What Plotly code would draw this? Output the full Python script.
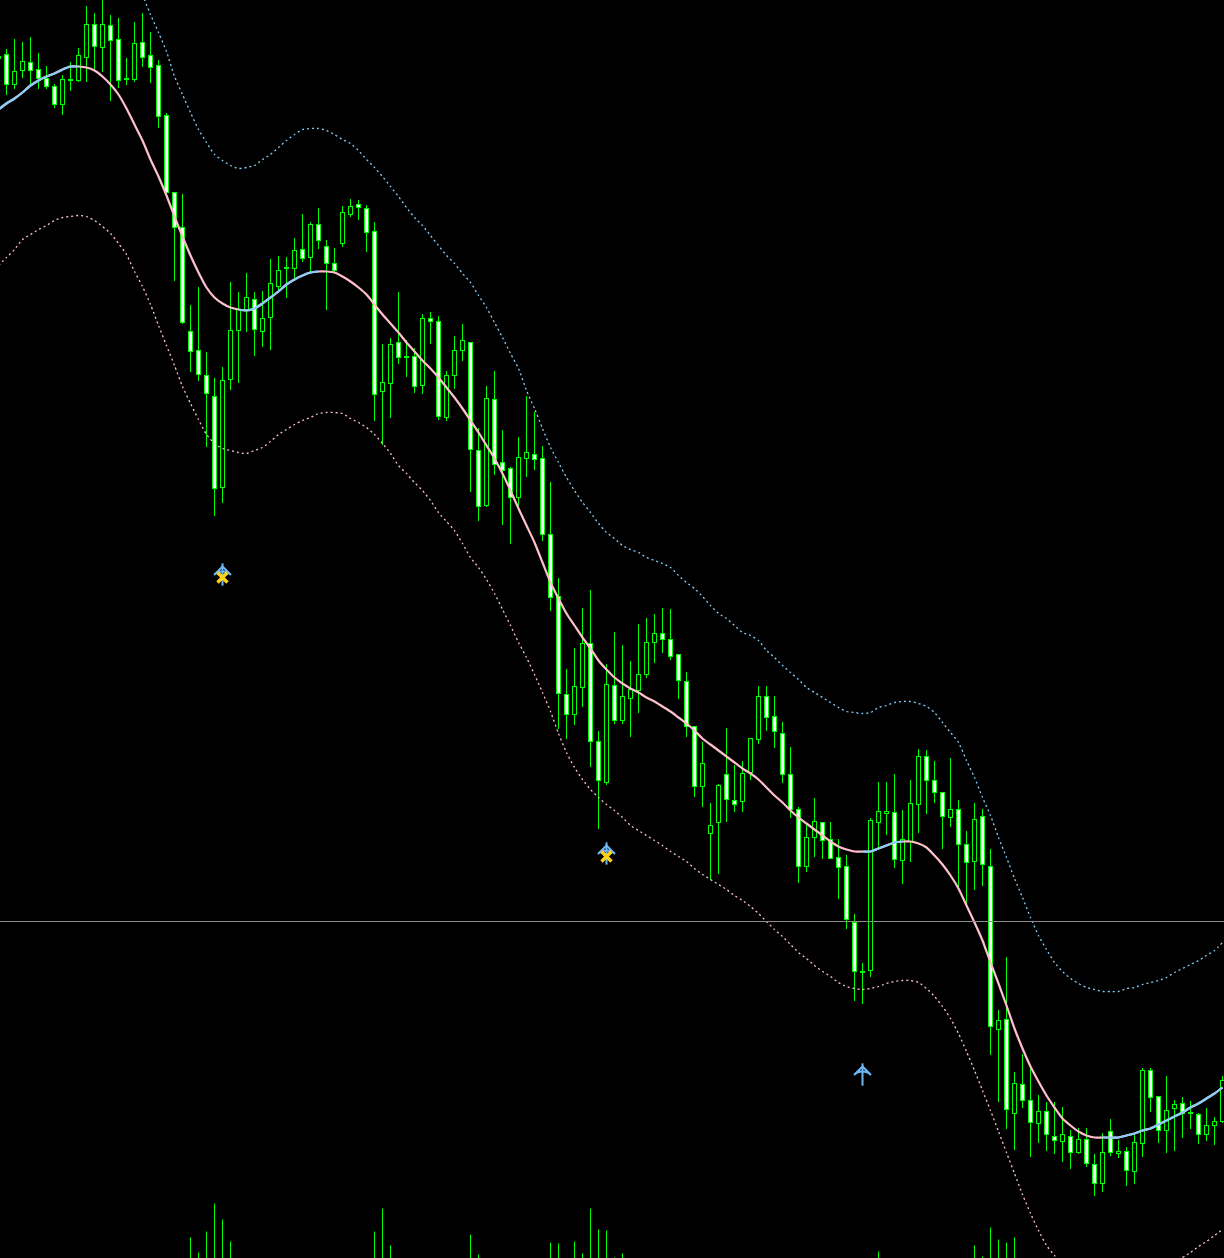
import plotly.graph_objects as go

highs = [51,49,39,42,37,53,66,84,75,62,48,6,13,0,15,18,58,22,13,32,60,113,192,194,305,287,352,378,367,282,292,273,292,291,259,256,257,238,214,222,208,240,248,206,199,200,205,222,344,338,292,340,348,314,312,316,371,336,324,342,428,386,371,430,467,437,396,412,446,482,578,669,648,608,590,731,664,632,645,661,624,618,614,608,609,654,672,726,742,803,784,728,765,761,738,686,686,696,722,747,807,825,798,822,822,839,855,914,963,818,782,782,774,810,780,749,750,761,792,758,800,831,803,809,849,1010,957,1072,1054,1067,1095,1102,1102,1107,1130,1128,1128,1154,1133,1119,1140,1147,1135,1068,1068,1096,1076,1100,1097,1101,1113,1108,1117,1076]
body_tops = [56,54,71,61,62,69,78,86,79,79,55,24,24,24,25,39,78,43,42,55,65,115,192,227,331,350,375,396,380,330,309,297,299,318,283,270,267,250,249,224,224,246,263,212,206,204,208,231,382,344,342,356,356,318,318,321,375,350,340,342,450,398,399,462,468,457,452,454,458,534,596,694,686,643,643,741,684,685,696,689,674,642,633,633,639,654,681,726,763,825,785,774,800,773,738,696,696,716,733,774,809,837,821,822,839,857,866,922,971,820,811,811,812,839,803,756,756,780,792,809,809,844,819,816,866,1020,1019,1083,1084,1100,1111,1111,1136,1134,1136,1139,1139,1164,1152,1131,1151,1151,1142,1070,1070,1096,1110,1104,1103,1112,1114,1125,1121,1080]
body_bottoms = [58,84,84,70,70,78,86,104,104,80,80,57,46,47,40,80,79,79,57,67,116,192,227,322,351,374,393,488,487,379,330,309,329,331,317,286,268,268,258,257,240,263,270,243,214,207,232,394,391,383,357,357,386,385,321,416,417,375,350,449,506,505,464,470,497,497,458,459,534,597,693,714,714,687,741,780,782,720,720,698,690,674,642,639,656,680,726,786,786,833,822,799,804,801,772,739,717,731,774,809,866,866,837,840,858,867,919,971,972,970,822,813,859,860,841,804,780,792,816,817,844,862,861,864,1026,1029,1109,1113,1100,1122,1123,1134,1140,1141,1152,1152,1163,1183,1183,1152,1153,1170,1171,1143,1097,1130,1130,1108,1113,1113,1134,1134,1125,1121]
lows = [61,94,88,77,85,88,88,107,114,90,81,81,69,71,100,87,84,81,66,82,127,193,280,323,371,380,446,515,502,389,382,331,355,346,349,291,297,277,261,271,248,309,271,246,216,219,251,420,444,417,363,376,392,393,343,419,420,388,360,491,520,506,474,524,543,505,476,469,540,610,728,738,724,706,766,828,784,723,723,736,712,677,662,652,659,698,736,796,806,879,873,821,811,811,779,743,730,747,782,817,882,871,856,858,858,898,928,1000,1003,976,847,834,867,883,861,832,813,802,848,826,887,903,889,885,1054,1101,1128,1149,1107,1156,1142,1150,1153,1161,1168,1153,1166,1195,1191,1155,1157,1185,1183,1156,1111,1142,1152,1150,1137,1128,1143,1140,1144,1122]
white_body = [1,1,0,0,1,1,1,1,0,1,0,0,1,0,1,1,1,0,1,1,1,1,1,1,1,1,1,1,0,0,0,0,1,0,0,0,1,0,1,0,1,1,1,0,0,1,1,1,0,0,1,1,1,0,1,1,0,0,0,1,1,0,1,1,1,0,0,1,1,1,1,1,0,0,1,1,0,1,0,0,0,0,0,1,1,1,1,1,0,0,0,1,1,0,0,0,1,1,1,1,1,0,0,1,1,1,1,1,1,0,0,0,1,0,0,0,1,1,1,0,1,1,0,1,1,0,1,0,1,1,0,1,1,0,1,0,1,1,0,1,0,1,0,0,1,1,0,0,1,1,1,0,0,0]

mid_line = [109,103,98,92,85,80,76,73,69,66,66,67,70,76,84,94,108,124,140,159,176,195,216,236,255,272,287,297,303,307,309,310,308,303,297,291,284,279,275,272,271,271,272,276,281,287,294,304,314,323,332,342,351,360,368,377,387,397,408,420,432,445,458,473,490,508,525,542,562,582,598,613,625,637,648,660,669,677,683,688,692,697,701,706,711,717,723,730,738,744,750,756,762,768,773,779,787,795,802,810,817,823,829,835,841,846,849,851,851,851,848,845,842,841,841,843,847,855,864,875,888,905,922,940,962,983,1005,1028,1048,1066,1081,1095,1107,1118,1125,1131,1135,1137,1137,1137,1137,1135,1133,1130,1128,1124,1120,1116,1112,1107,1103,1098,1093,1087]
blue_spans = [(0, 10), (30, 40), (108, 113), (138, 153)]

upper_band = [None]*18 + [-6,14,32,51,76,94,112,129,142,154,160,165,168,167,165,159,154,147,140,134,129,128,128,130,134,139,143,150,159,167,176,186,196,207,217,225,235,245,255,263,273,282,295,307,322,337,353,368,390,408,428,447,462,477,490,502,512,523,532,538,545,549,552,557,560,563,567,575,582,588,596,605,613,618,625,632,635,640,650,657,665,672,679,687,692,697,702,707,711,712,713,712,707,705,702,701,701,703,706,712,722,732,742,760,777,797,815,837,857,878,897,917,935,949,962,971,978,983,987,989,991,991,991,988,987,984,982,980,977,972,968,964,960,955,950,942]
lower_band = [265,257,249,239,234,229,225,220,217,216,215,216,220,226,233,243,254,271,286,304,325,345,365,386,403,419,434,443,448,450,452,453,450,447,441,434,429,424,420,417,413,412,412,413,418,422,427,434,443,453,465,473,482,490,500,512,521,530,543,557,567,579,593,609,625,642,657,674,692,711,733,752,767,779,789,797,804,810,817,825,830,835,840,845,851,856,861,868,874,879,884,889,895,900,906,913,921,929,936,944,952,958,965,971,976,982,986,988,989,988,986,983,981,980,980,982,988,996,1006,1018,1033,1051,1070,1090,1110,1131,1152,1173,1194,1213,1230,1245,1255,1265] + [None]*14 + [1257,1252,1246,1241,1235,1229]

spike_bars = [24,25,26,27,28,29,47,48,49,59,60,69,70,72,73,74,75,76,77,78,110,122,123,124,125,126,127]
spike_tops = [1237,1252,1231,1203,1219,1241,1231,1208,1245,1234,1254,1242,1243,1241,1253,1208,1229,1230,1257,1253,1251,1245,1256,1227,1239,1242,1237]

level_line = 921
signal_bars = [28, 76, 108]
arrow_tips = [566, 845, 1066]
arrow_tails = [574, 853, 1074]
cross_bars = [28, 76]
cross_levels = [577, 856]

BG = "#000000"
GREEN = "#00ff00"
BLUE = "#87cefa"
PINK = "#ffc0cb"
ARROW = "#6fb6f4"
CROSS = "#ffd21a"

n = len(highs)
for arr in (body_tops, body_bottoms, lows, white_body, mid_line, upper_band, lower_band):
    assert len(arr) == n, len(arr)
bars = list(range(n))

fig = go.Figure()

spike_x, spike_y = [], []
for b, t in zip(spike_bars, spike_tops):
    spike_x += [b, b, None]
    spike_y += [t, 1258, None]
fig.add_trace(go.Scatter(x=spike_x, y=spike_y, mode="lines", line=dict(color=GREEN, width=1), hoverinfo="skip"))

# wicks are bars too, so that the body fill drawn after them covers the wick
fig.add_trace(go.Bar(
    x=bars, base=[h - 0.5 for h in highs],
    y=[l - h + 1 for h, l in zip(highs, lows)], width=0.125,
    marker=dict(color=GREEN, line=dict(width=0)), hoverinfo="skip"))

# body outline: solid green block, 5 px wide; fill: 3 px wide block inset by one pixel row
fig.add_trace(go.Bar(
    x=bars, base=[t - 0.5 for t in body_tops],
    y=[b - t + 1 for t, b in zip(body_tops, body_bottoms)], width=0.625,
    marker=dict(color=GREEN, line=dict(width=0)), hoverinfo="skip"))
fig.add_trace(go.Bar(
    x=bars, base=[t + 0.5 for t in body_tops],
    y=[max(b - t - 1, 0) for t, b in zip(body_tops, body_bottoms)], width=0.375,
    marker=dict(color=["#ffffff" if w else BG for w in white_body], line=dict(width=0)), hoverinfo="skip"))

fig.add_trace(go.Scatter(x=bars, y=upper_band, mode="lines", line=dict(color=BLUE, width=1.3, dash="2px 3px", shape="spline", smoothing=0.6), hoverinfo="skip"))
fig.add_trace(go.Scatter(x=bars, y=lower_band, mode="lines", line=dict(color=PINK, width=1.3, dash="2px 3px", shape="spline", smoothing=0.6), hoverinfo="skip"))

fig.add_trace(go.Scatter(x=bars, y=mid_line, mode="lines", line=dict(color=PINK, width=2.2, shape="spline", smoothing=0.6), hoverinfo="skip"))
for a, b in blue_spans:
    fig.add_trace(go.Scatter(x=bars[a:b+1], y=mid_line[a:b+1], mode="lines", line=dict(color=BLUE, width=2.2, shape="spline", smoothing=0.6), hoverinfo="skip"))

fig.add_trace(go.Scatter(x=[bars[0], bars[-1]+1], y=[level_line, level_line], mode="lines", line=dict(color="#8c8c8c", width=1), hoverinfo="skip"))

fig.add_trace(go.Scatter(x=signal_bars, y=arrow_tails, mode="markers",
    marker=dict(symbol="line-ns", size=16, color=ARROW, line=dict(color=ARROW, width=2)), hoverinfo="skip"))
fig.add_trace(go.Scatter(x=signal_bars, y=arrow_tips, mode="markers",
    marker=dict(symbol="arrow-wide-open", size=12, color=ARROW, line=dict(color=ARROW, width=2)), hoverinfo="skip"))
fig.add_trace(go.Scatter(x=cross_bars, y=cross_levels, mode="markers",
    marker=dict(symbol="x-thin", size=10, color=CROSS, line=dict(color=CROSS, width=3.5)), hoverinfo="skip"))

fig.update_layout(
    width=1224, height=1258, margin=dict(l=0, r=0, t=0, b=0),
    paper_bgcolor=BG, plot_bgcolor=BG, showlegend=False, bargap=0.3, barmode="overlay",
    xaxis=dict(range=[0.1875, 153.1875], visible=False, fixedrange=True),
    yaxis=dict(range=[1257.5, -0.5], visible=False, fixedrange=True),
)
fig.write_html("out.html", config=dict(displayModeBar=False),
    post_script="document.body.style.margin='0';document.body.style.background='#000';")
